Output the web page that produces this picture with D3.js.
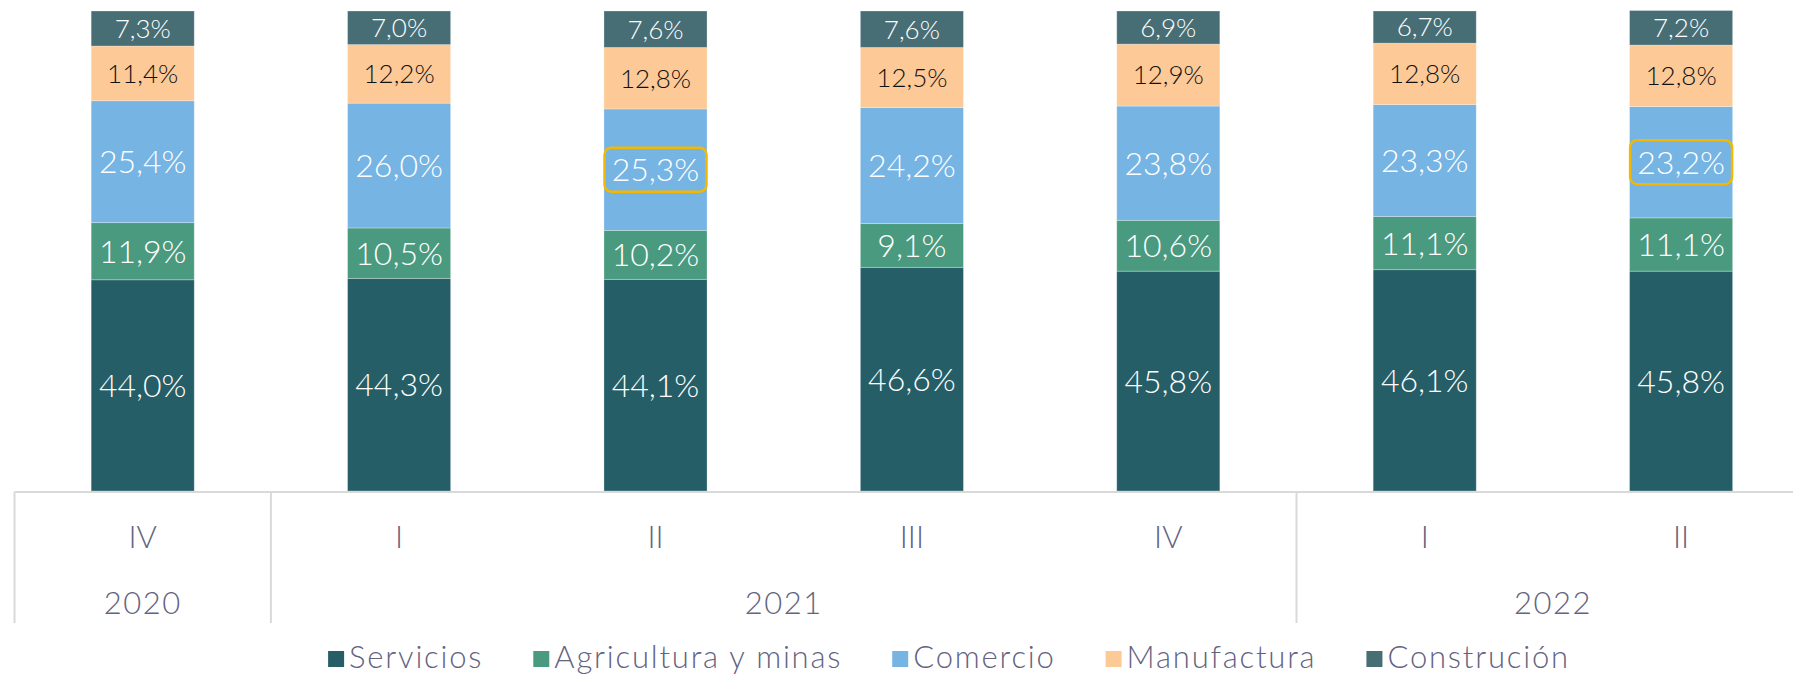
<!DOCTYPE html>
<style>
body { margin: 0; background: #fff; }
text { font-family: "Century Gothic", "Lato", sans-serif; font-weight: 300; }
</style>
<svg width="1793" height="677"></svg>
<script src="https://cdn.jsdelivr.net/npm/d3@7"></script>
<script>

// data
var quarters = ["IV", "I", "II", "III", "IV", "I", "II"];
var years = [{label: "2020", from: 0, to: 0}, {label: "2021", from: 1, to: 4}, {label: "2022", from: 5, to: 6}];
var series = ["Servicios", "Agricultura y minas", "Comercio", "Manufactura", "Construción"];
var servicios    = [44.0, 44.3, 44.1, 46.6, 45.8, 46.1, 45.8];
var agricultura  = [11.9, 10.5, 10.2, 9.1, 10.6, 11.1, 11.1];
var comercio     = [25.4, 26.0, 25.3, 24.2, 23.8, 23.3, 23.2];
var manufactura  = [11.4, 12.2, 12.8, 12.5, 12.9, 12.8, 12.8];
var construccion = [7.3, 7.0, 7.6, 7.6, 6.9, 6.7, 7.2];
var highlighted = [[2, "Comercio"], [6, "Comercio"]];

var values = [servicios, agricultura, comercio, manufactura, construccion];
var colors = ["#255e66", "#4a9a80", "#75b4e3", "#fdc997", "#476d75"];
var textColors = ["#fff", "#fff", "#fff", "#111", "#fff"];
var fontSizes = [32, 32, 32, 26, 26];

var table = quarters.map(function(q, i) {
  var row = {idx: i};
  series.forEach(function(s, j) { row[s] = values[j][i]; });
  return row;
});

var svg = d3.select("svg"),
    left = 14.5, band = 256.4,
    baseline = 491, plotTop = 11;

var x = d3.scaleBand()
    .domain(d3.range(quarters.length))
    .range([left, left + band * quarters.length]);

var barW = x.bandwidth() * 0.402;

var y = d3.scaleLinear()
    .domain([0, 100])
    .range([baseline, plotTop]);

var stack = d3.stack().keys(series)(table);

var layer = svg.append("g").selectAll("g")
  .data(stack)
  .enter().append("g")
    .attr("fill", function(d, i) { return colors[i]; });

layer.selectAll("rect")
  .data(function(d) { return d; })
  .enter().append("rect")
    .attr("x", function(d) { return x(d.data.idx) + (x.bandwidth() - barW) / 2; })
    .attr("y", function(d) { return y(d[1]); })
    .attr("width", barW)
    .attr("height", function(d) { return y(d[0]) - y(d[1]); })
    .attr("stroke", "rgba(255,255,255,0.35)")
    .attr("stroke-width", 0.8);

// value labels
stack.forEach(function(s, j) {
  svg.append("g").selectAll("text")
    .data(s)
    .enter().append("text")
      .attr("x", function(d) { return x(d.data.idx) + x.bandwidth() / 2; })
      .attr("y", function(d) { return (y(d[0]) + y(d[1])) / 2; })
      .attr("dy", "0.36em")
      .attr("text-anchor", "middle")
      .attr("font-size", fontSizes[j])
      .attr("fill", textColors[j])
      .text(function(d) { return (d[1] - d[0]).toFixed(1).replace(".", ",") + "%"; });
});

// gold boxes round two labels
highlighted.forEach(function(h) {
  var j = series.indexOf(h[1]), d = stack[j][h[0]];
  var cx = x(h[0]) + x.bandwidth() / 2, cy = (y(d[0]) + y(d[1])) / 2;
  svg.append("rect")
      .attr("x", cx - 51).attr("y", cy - 22)
      .attr("width", 102).attr("height", 44)
      .attr("rx", 7)
      .attr("fill", "none")
      .attr("stroke", "#f5b800")
      .attr("stroke-width", 2.5);
});

// category axis (two levels)
var axis = svg.append("g").attr("stroke", "#d9d9d9").attr("stroke-width", 2);
axis.append("line")
    .attr("x1", left).attr("x2", 1793)
    .attr("y1", baseline + 1).attr("y2", baseline + 1);
years.forEach(function(yr) {
  axis.append("line")
      .attr("x1", x(yr.from)).attr("x2", x(yr.from))
      .attr("y1", baseline + 1).attr("y2", 623);
});

svg.append("g").selectAll("text")
  .data(quarters)
  .enter().append("text")
    .attr("x", function(d, i) { return x(i) + x.bandwidth() / 2; })
    .attr("y", 537)
    .attr("dy", "0.36em")
    .attr("text-anchor", "middle")
    .attr("font-size", 31)
    .attr("fill", "#63637f")
    .text(function(d) { return d; });

svg.append("g").selectAll("text")
  .data(years)
  .enter().append("text")
    .attr("x", function(d) { return (x(d.from) + x(d.to) + x.bandwidth()) / 2; })
    .attr("y", 603)
    .attr("dy", "0.36em")
    .attr("text-anchor", "middle")
    .attr("font-size", 31)
    .attr("letter-spacing", 1.5)
    .attr("fill", "#63637f")
    .text(function(d) { return d.label; });

// legend
var legend = svg.append("g");
var items = legend.selectAll("g")
  .data(series)
  .enter().append("g");

items.append("rect")
    .attr("y", 651)
    .attr("width", 16)
    .attr("height", 16)
    .attr("fill", function(d, i) { return colors[i]; });

items.append("text")
    .attr("x", 21)
    .attr("y", 657)
    .attr("dy", "0.36em")
    .attr("font-size", 31)
    .attr("letter-spacing", 1.8)
    .attr("fill", "#63637f")
    .text(function(d) { return d; });

var pos = 0, offsets = [];
items.each(function() {
  offsets.push(pos);
  pos += 21 + d3.select(this).select("text").node().getComputedTextLength() + 50;
});
var total = pos - 50, start = 949 - total / 2;
items.attr("transform", function(d, i) { return "translate(" + (start + offsets[i]) + ",0)"; });

</script>
